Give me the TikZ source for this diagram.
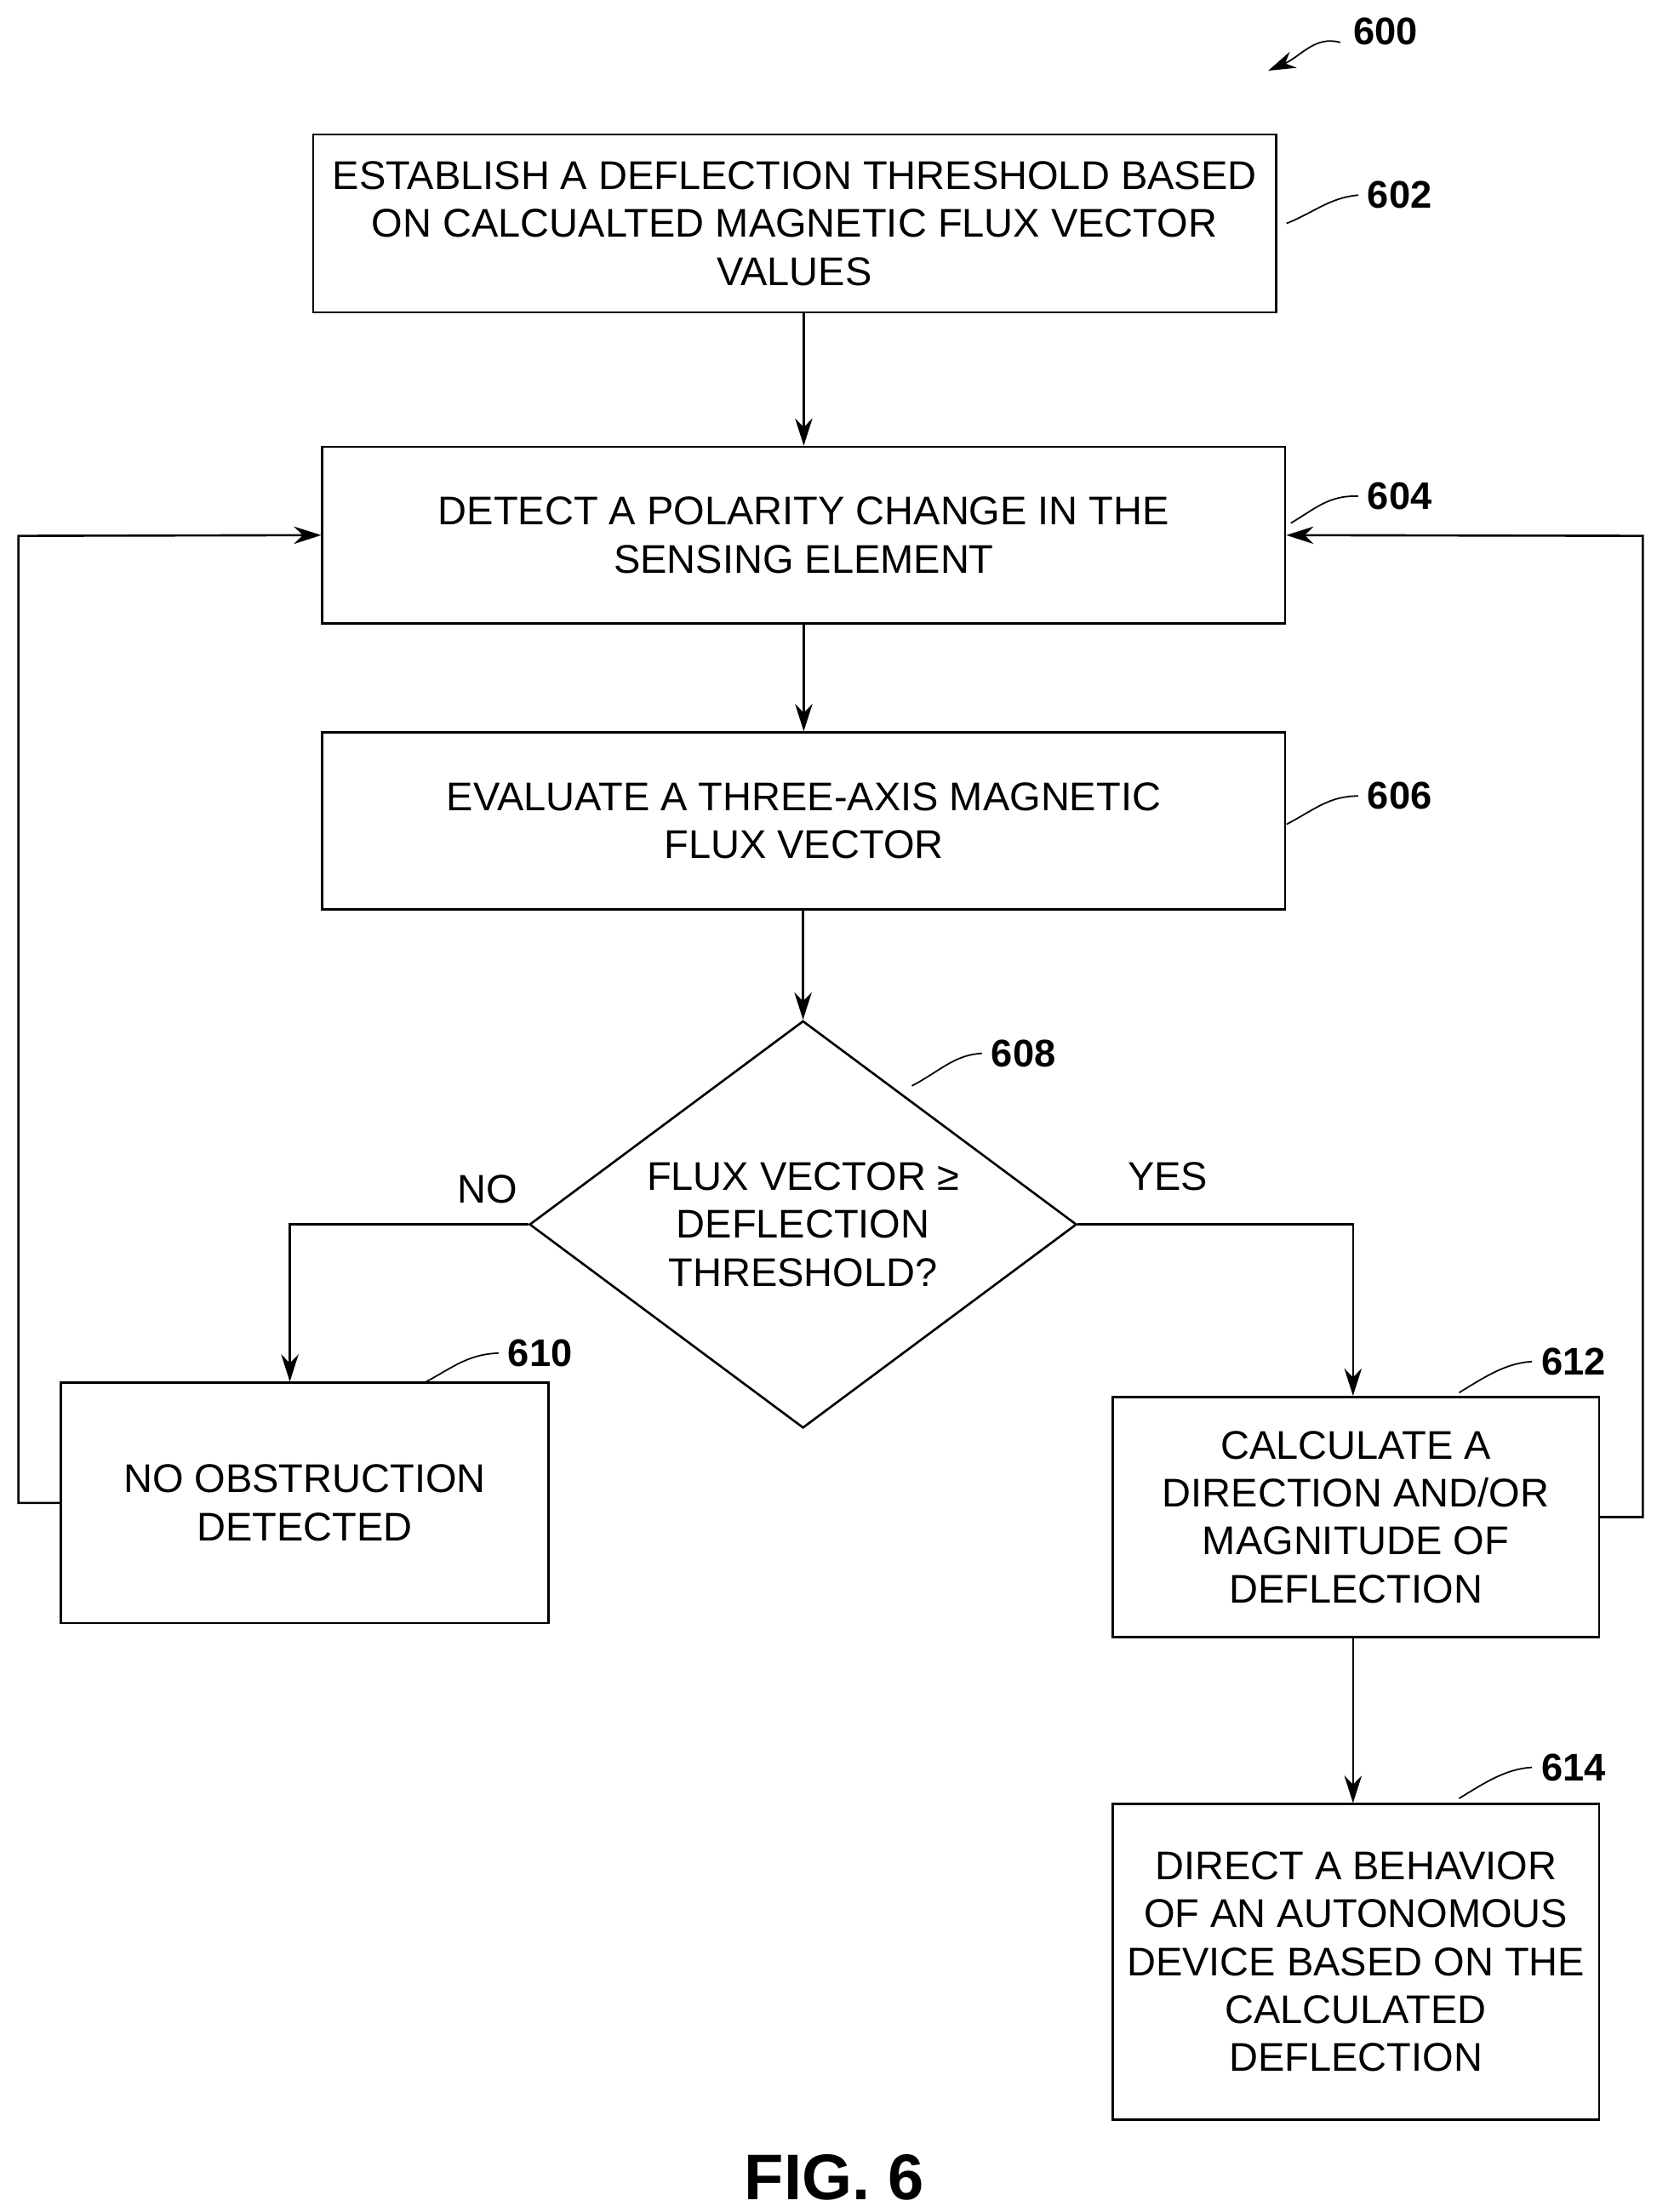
\documentclass[tikz,border=0pt]{standalone}
\usepackage{fontspec}
\setmainfont{Liberation Sans}
\usetikzlibrary{arrows.meta,shapes.geometric}

\begin{document}
\begin{tikzpicture}[>={Stealth[length=11pt,width=7pt]},line width=0.9pt,
	every node/.style={font=\fontsize{16.1}{19.3}\selectfont},
	task/.style={draw,rectangle,align=center,inner sep=2pt},
	check/.style={draw,diamond,align=center,inner sep=0pt,minimum width=7.74cm,minimum height=5.76cm,aspect=1.34},
	ref/.style={font=\fontsize{15.5}{19.3}\selectfont\bfseries},
	lead/.style={line width=0.6pt}]

	\useasboundingbox (0,0) rectangle (23.44,-31.29);

	\node [task,minimum width=13.62cm,minimum height=2.52cm]	(s602) at (11.24,-3.16)	{ESTABLISH A DEFLECTION THRESHOLD BASED\\ON CALCUALTED MAGNETIC FLUX VECTOR\\VALUES};
	\node [task,minimum width=13.62cm,minimum height=2.5cm]	(s604) at (11.37,-7.57)	{DETECT A POLARITY CHANGE IN THE\\SENSING ELEMENT};
	\node [task,minimum width=13.62cm,minimum height=2.5cm]	(s606) at (11.37,-11.61)	{EVALUATE A THREE-AXIS MAGNETIC\\FLUX VECTOR};
	\node [check]												(s608) at (11.36,-17.32)	{FLUX VECTOR ≥\\DEFLECTION\\THRESHOLD?};
	\node [task,minimum width=6.9cm,minimum height=3.4cm]		(s610) at (4.31,-21.26)	{NO OBSTRUCTION\\DETECTED};
	\node [task,minimum width=6.88cm,minimum height=3.4cm]		(s612) at (19.18,-21.46)	{CALCULATE A\\DIRECTION AND/OR\\MAGNITUDE OF\\DEFLECTION};
	\node [task,minimum width=6.88cm,minimum height=4.46cm]	(s614) at (19.18,-27.75)	{DIRECT A BEHAVIOR\\OF AN AUTONOMOUS\\DEVICE BASED ON THE\\CALCULATED\\DEFLECTION};

	% connectors
	\draw [->] (s602.south -| s604) -- (s604.north);
	\draw [->] (s604) -- (s606);
	\draw [->] (s606.south -| s608) -- (s608.north);
	\coordinate (noX) at (4.10,-17.32);
	\coordinate (yesX) at (19.14,-17.32);
	\draw [->] (s608.west) -- (noX) -- (noX |- s610.north);
	\draw [->] (s608.east) -- (yesX) -- (yesX |- s612.north);
	\draw [->] (yesX |- s612.south) -- (yesX |- s614.north);
	\coordinate (backL) at (0.26,-7.58);
	\coordinate (backR) at (23.24,-7.58);
	\draw [->] (s610.west) -| (backL) -- (s604.west);
	\draw [->] (s612.east) -| (backR) -- (s604.east);

	\node (no)  at (6.90,-16.82) {NO};
	\node (yes) at (16.52,-16.64) {YES};

	% reference numerals
	\node [ref] (r600) at (19.60,-0.44) {600};
	\draw [lead,->] (18.96,-0.60) .. controls (18.6,-0.5) and (18.4,-0.8) .. (17.94,-1.00);
	\node [ref] (r602) at (19.80,-2.76) {602};
	\draw [lead] (18.20,-3.16) .. controls (18.6,-3.0) and (18.8,-2.8) .. (r602.west);
	\node [ref] (r604) at (19.80,-7.02) {604};
	\draw [lead] (18.26,-7.40) .. controls (18.6,-7.2) and (18.8,-7.0) .. (r604.west);
	\node [ref] (r606) at (19.80,-11.26) {606};
	\draw [lead] (18.20,-11.66) .. controls (18.6,-11.45) and (18.8,-11.26) .. (r606.west);
	\node [ref] (r608) at (14.48,-14.90) {608};
	\draw [lead] (12.90,-15.36) .. controls (13.3,-15.15) and (13.5,-14.92) .. (r608.west);
	\node [ref] (r610) at (7.64,-19.14) {610};
	\draw [lead] (6.00,-19.56) .. controls (6.4,-19.35) and (6.6,-19.16) .. (r610.west);
	\node [ref] (r612) at (22.26,-19.26) {612};
	\draw [lead] (20.64,-19.70) .. controls (21.0,-19.48) and (21.3,-19.28) .. (r612.west);
	\node [ref] (r614) at (22.26,-25.00) {614};
	\draw [lead] (20.64,-25.44) .. controls (21.0,-25.22) and (21.3,-25.02) .. (r614.west);

	\node [font=\fontsize{26}{30}\selectfont\bfseries] (fig) at (11.80,-30.80) {FIG. 6};

\end{tikzpicture}
\end{document}
